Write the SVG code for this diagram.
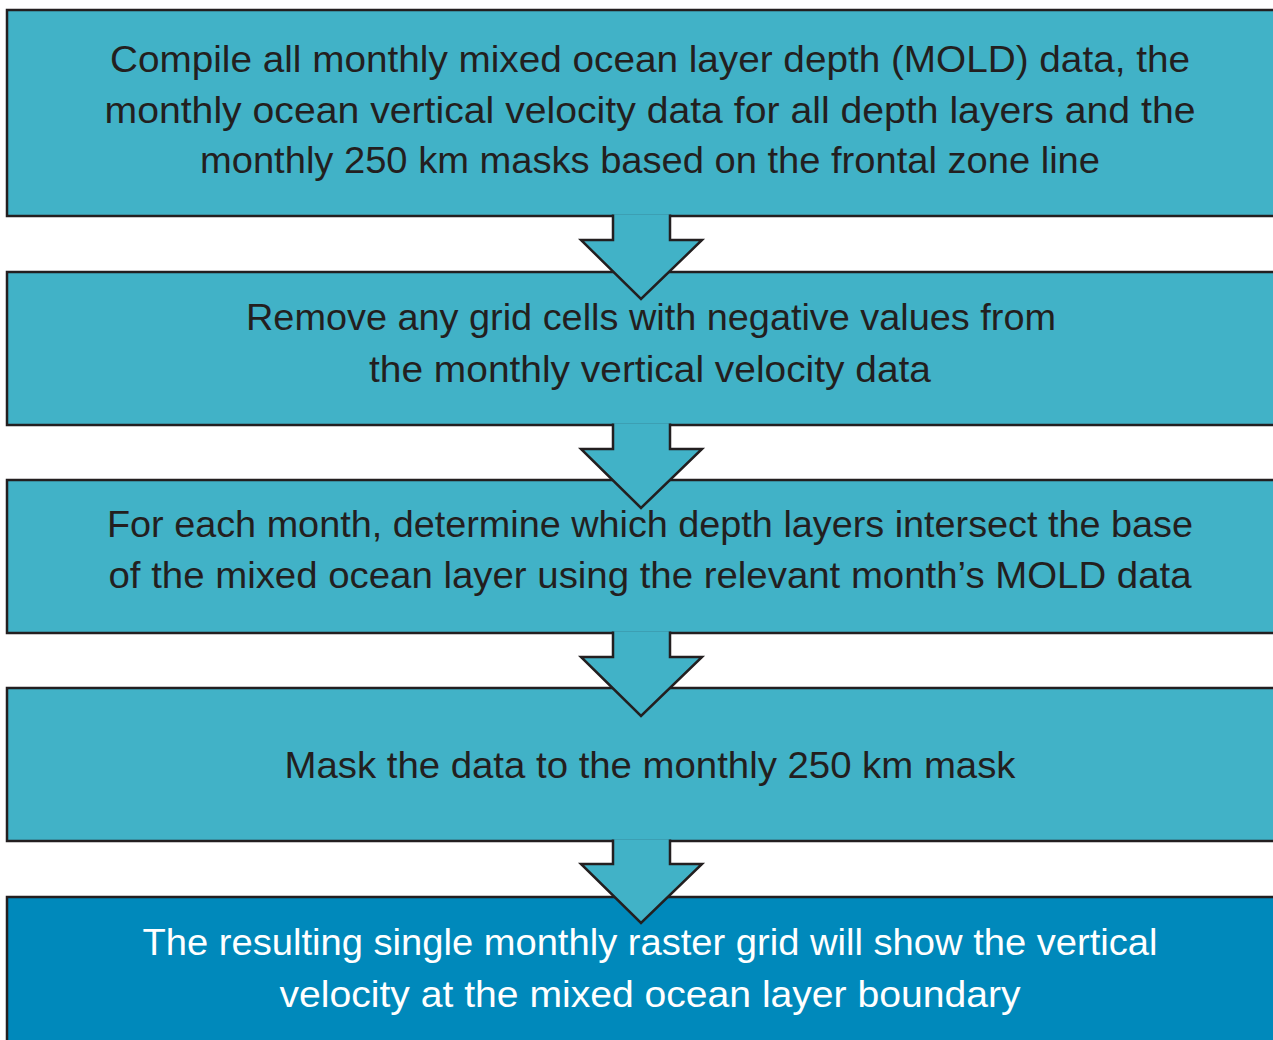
<svg xmlns="http://www.w3.org/2000/svg" width="1273" height="1040" viewBox="0 0 1273 1040">
<style>
.box{fill:#41B2C7;stroke:#231F20;stroke-width:2.5}
.final{fill:#0089BB;stroke:#231F20;stroke-width:2.5}
.arrow{fill:#41B2C7;stroke:#231F20;stroke-width:2.5;stroke-linejoin:miter}
text{font-family:"Liberation Sans",Arial,sans-serif;font-size:36px;fill:#231F20;text-anchor:middle}
.w{fill:#FFFFFF}
</style>
<rect width="1273" height="1040" fill="#FFFFFF"/>
<g id="node1">
<rect class="box" x="7" y="10" width="1280" height="206"/>
<text x="650" y="72" textLength="1080" lengthAdjust="spacingAndGlyphs">Compile all monthly mixed ocean layer depth (MOLD) data, the</text>
<text x="650" y="123" textLength="1091" lengthAdjust="spacingAndGlyphs">monthly ocean vertical velocity data for all depth layers and the</text>
<text x="650" y="173" textLength="900" lengthAdjust="spacingAndGlyphs">monthly 250 km masks based on the frontal zone line</text>
</g>
<g id="node2">
<rect class="box" x="7" y="272" width="1280" height="153"/>
<text x="651" y="330" textLength="810" lengthAdjust="spacingAndGlyphs">Remove any grid cells with negative values from</text>
<text x="650" y="382" textLength="562" lengthAdjust="spacingAndGlyphs">the monthly vertical velocity data</text>
</g>
<g id="node3">
<rect class="box" x="7" y="480" width="1280" height="153"/>
<text x="650" y="537" textLength="1086" lengthAdjust="spacingAndGlyphs">For each month, determine which depth layers intersect the base</text>
<text x="650" y="588" textLength="1083" lengthAdjust="spacingAndGlyphs">of the mixed ocean layer using the relevant month’s MOLD data</text>
</g>
<g id="node4">
<rect class="box" x="7" y="688" width="1280" height="153"/>
<text x="650" y="778" textLength="731" lengthAdjust="spacingAndGlyphs">Mask the data to the monthly 250 km mask</text>
</g>
<g id="node5">
<rect class="final" x="7" y="897" width="1280" height="160"/>
<text class="w" x="650" y="955" textLength="1015" lengthAdjust="spacingAndGlyphs">The resulting single monthly raster grid will show the vertical</text>
<text class="w" x="650" y="1007" textLength="741" lengthAdjust="spacingAndGlyphs">velocity at the mixed ocean layer boundary</text>
</g>
<g id="connectors">
<path class="arrow" d="M613,214.5 L613,240 L581,240 L641,299 L702,240 L670,240 L670,214.5"/>
<path class="arrow" d="M613,423.5 L613,449 L581,449 L641,508 L702,449 L670,449 L670,423.5"/>
<path class="arrow" d="M613,631.5 L613,657 L581,657 L641,716 L702,657 L670,657 L670,631.5"/>
<path class="arrow" d="M613,839.5 L613,864 L581,864 L641,923 L702,864 L670,864 L670,839.5"/>
</g>
</svg>
